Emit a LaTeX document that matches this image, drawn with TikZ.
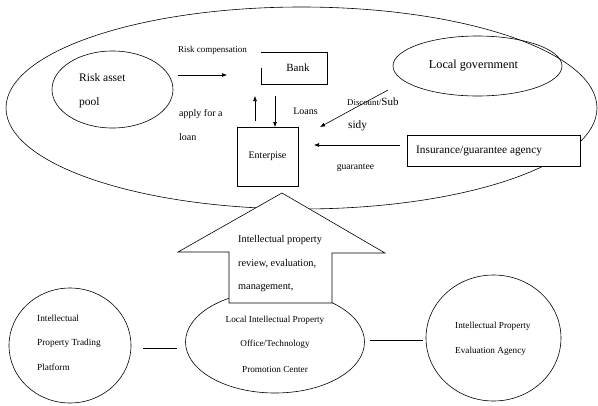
\documentclass[tikz,border=0pt]{standalone}
\usepackage{fontspec}
\setmainfont{Liberation Serif}
\usetikzlibrary{shapes.geometric,arrows.meta}
\newcommand{\fs}[1]{\fontsize{#1}{#1}\selectfont}
\tikzset{
  ln/.style={line width=0.6pt, black},
  arr/.style={ln, -{Latex[length=5pt,width=4pt]}},
  oval/.style={ellipse, draw, line width=0.6pt, inner sep=0pt},
  txt/.style={inner sep=0pt, anchor=west},
  ctxt/.style={inner sep=0pt},
}
\begin{document}
\begin{tikzpicture}[x=1pt,y=-1pt]
\useasboundingbox (0,0) rectangle (598,405);
% outer ellipse
\node[oval, minimum width=591, minimum height=202] (outer) at (301.5,108) {};
% risk asset pool
\node[oval, minimum width=121, minimum height=77] (pool) at (112.5,89.5) {};
\node[txt, font=\fs{11.5}] (poolA) at (79,78) {Risk asset};
\node[txt, font=\fs{11.5}] (poolB) at (79,103) {pool};
% risk compensation
\node[ctxt, font=\fs{9}] (riskc) at (212.5,50) {Risk compensation};
\coordinate (rcS) at (178,75);
\coordinate (rcE) at (227,75);
\draw[arr] (rcS) -- (rcE);
% bank
\node[ctxt, minimum width=66, minimum height=32, font=\fs{11}] (bank) at (294,68) {\hspace*{8pt}Bank};
\draw[ln] (bank.north west) ++(0,16) -- (bank.south west) -- (bank.south east) -- (bank.north east) -- (bank.north west);
% enterprise
\node[draw, ln, minimum width=61, minimum height=59, inner sep=0pt, font=\fs{10}] (ent) at (267.5,156.5) {Enterpise};
\coordinate (upS) at (255,121);
\coordinate (upE) at (255,96);
\draw[arr] (upS) -- (upE);
\coordinate (dnS) at (275,96);
\coordinate (dnE) at (275,127);
\draw[arr] (dnS) -- (dnE);
\node[txt, font=\fs{10}] (applyA) at (179,114) {apply for a};
\node[txt, font=\fs{10}] (applyB) at (179,137) {loan};
\node[ctxt, font=\fs{10}] (loans) at (305.5,111) {Loans};
% local government
\node[oval, minimum width=169, minimum height=60] (gov) at (477.5,66) {};
\node[ctxt, font=\fs{12.2}] (govT) at (473.5,66) {Local government};
\coordinate (dgS) at (388,90);
\coordinate (dgE) at (320,127);
\draw[arr] (dgS) -- (dgE);
\node[txt] (disc) at (347,102) {\fs{8.8}Discount/\fs{11}Sub};
\node[txt, font=\fs{11.3}] (sidy) at (348,126) {sidy};
% insurance
\node[draw, ln, fill=white, minimum width=173, minimum height=31, inner sep=0pt] (ins) at (493.5,150.5) {};
\node[txt, font=\fs{11.3}] (insT) at (416,151) {Insurance/guarantee agency};
\coordinate (gS) at (400,145);
\coordinate (gE) at (314,145);
\draw[arr] (gS) -- (gE);
\node[ctxt, font=\fs{9.6}] (guar) at (355.5,168) {guarantee};
% local IP office ellipse
\node[oval, minimum width=179, minimum height=102] (office) at (275,342) {};
\node[ctxt, font=\fs{9.2}] (offA) at (275,320) {Local Intellectual Property};
\node[ctxt, font=\fs{9.2}] (offB) at (275,344) {Office/Technology};
\node[ctxt, font=\fs{9.2}] (offC) at (275,369) {Promotion Center};
% big up arrow
\draw[ln, fill=white] (282,193) -- (385,253) -- (332,253) -- (332,303) -- (229,303) -- (229,252) -- (178,252) -- cycle;
\coordinate (arrowTip) at (282,193);
\node[txt, font=\fs{10.3}] (ipA) at (238,240) {Intellectual property};
\node[txt, font=\fs{10.3}] (ipB) at (238,264) {review, evaluation,};
\node[txt, font=\fs{10.3}] (ipC) at (238,288) {management,};
% left circle
\node[oval, minimum width=122, minimum height=115] (trade) at (70,345.5) {};
\node[txt, font=\fs{9.3}] (trA) at (37,318) {Intellectual};
\node[txt, font=\fs{9.3}] (trB) at (37,343) {Property Trading};
\node[txt, font=\fs{9.3}] (trC) at (37,367) {Platform};
\coordinate (l1S) at (143,348);
\coordinate (l1E) at (177,348);
\draw[ln] (l1S) -- (l1E);
% right circle
\node[oval, minimum width=135, minimum height=126] (eval) at (493.5,338) {};
\node[txt, font=\fs{9.2}] (evA) at (455,326) {Intellectual Property};
\node[txt, font=\fs{9.2}] (evB) at (455,351) {Evaluation Agency};
\coordinate (l2S) at (370,340);
\coordinate (l2E) at (423,340);
\draw[ln] (l2S) -- (l2E);
\end{tikzpicture}
\end{document}
